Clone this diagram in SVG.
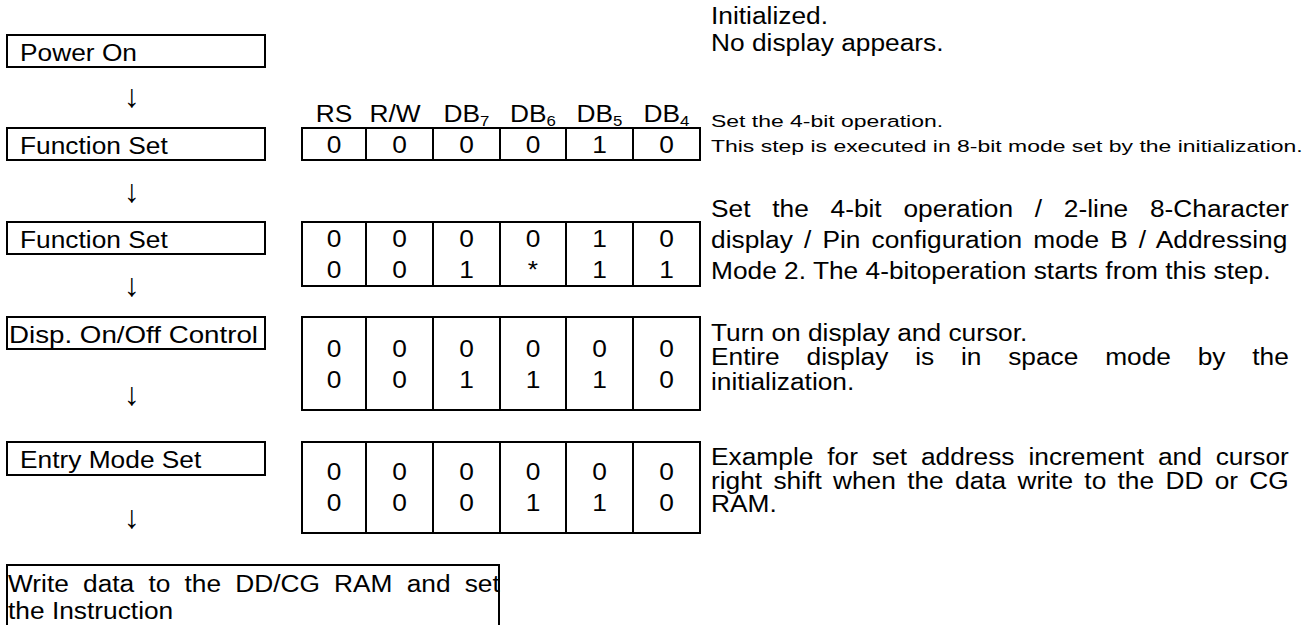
<svg xmlns="http://www.w3.org/2000/svg" width="1308" height="625" viewBox="0 0 1308 625">
<style>
text{font-family:"Liberation Sans",Arial,sans-serif;fill:#000}
.t{font-size:23.5px}
.c{font-size:23.5px;text-anchor:middle}
.s{font-size:17px}
.sub{font-size:15px}
.box{fill:#fff;stroke:#000;stroke-width:2}
.ln{stroke:#000;stroke-width:2}
.ar{font-size:32px;text-anchor:middle}
</style>
<rect width="1308" height="625" fill="#fff"/>

<g id="power-on">
<rect class="box" x="7" y="35" width="258" height="32"/>
<text class="t" transform="matrix(1.12 0 0 1 20 61)">Power On</text>
</g>

<g id="function-set-1">
<rect class="box" x="7" y="128" width="258" height="32"/>
<text class="t" transform="matrix(1.12 0 0 1 20 154)">Function Set</text>
</g>

<g id="function-set-2">
<rect class="box" x="7" y="222" width="258" height="32"/>
<text class="t" transform="matrix(1.12 0 0 1 20 248)">Function Set</text>
</g>

<g id="disp-control">
<rect class="box" x="7" y="317" width="258" height="32"/>
<text class="t" transform="matrix(1.18 0 0 1 9 343)">Disp. On/Off Control</text>
</g>

<g id="entry-mode">
<rect class="box" x="7" y="442" width="258" height="33"/>
<text class="t" transform="matrix(1.12 0 0 1 20 468)">Entry Mode Set</text>
</g>

<g id="write-data">
<rect class="box" x="7" y="565" width="492" height="80"/>
<text class="t" transform="matrix(1.12 0 0 1 8 592)" word-spacing="6.1">Write data to the DD/CG RAM and set</text>
<text class="t" transform="matrix(1.12 0 0 1 8 619)">the Instruction</text>
</g>

<g id="connectors">
<text class="ar" x="132" y="107">↓</text>
<text class="ar" x="132" y="202">↓</text>
<text class="ar" x="132" y="296">↓</text>
<text class="ar" x="132" y="405">↓</text>
<text class="ar" x="132" y="528">↓</text>
</g>

<g id="table-header">
<text class="c" transform="matrix(1.12 0 0 1 334 122)">RS</text>
<text class="c" transform="matrix(1.12 0 0 1 395 122)">R/W</text>
<text class="c" transform="matrix(1.12 0 0 1 466.5 122)">DB<tspan class="sub" dy="4">7</tspan></text>
<text class="c" transform="matrix(1.12 0 0 1 533 122)">DB<tspan class="sub" dy="4">6</tspan></text>
<text class="c" transform="matrix(1.12 0 0 1 599.5 122)">DB<tspan class="sub" dy="4">5</tspan></text>
<text class="c" transform="matrix(1.12 0 0 1 666.5 122)">DB<tspan class="sub" dy="4">4</tspan></text>
</g>

<g id="table-1">
<rect class="box" x="302" y="128" width="398" height="32"/>
<path class="ln" d="M366 128V160M433 128V160M500 128V160M566 128V160M633 128V160"/>
<text class="c" transform="matrix(1.12 0 0 1 334 153)">0</text>
<text class="c" transform="matrix(1.12 0 0 1 399.5 153)">0</text>
<text class="c" transform="matrix(1.12 0 0 1 466.5 153)">0</text>
<text class="c" transform="matrix(1.12 0 0 1 533 153)">0</text>
<text class="c" transform="matrix(1.12 0 0 1 599.5 153)">1</text>
<text class="c" transform="matrix(1.12 0 0 1 666.5 153)">0</text>
</g>

<g id="table-2">
<rect class="box" x="302" y="222" width="398" height="64"/>
<path class="ln" d="M366 222V286M433 222V286M500 222V286M566 222V286M633 222V286"/>
<text class="c" transform="matrix(1.12 0 0 1 334 247)">0</text>
<text class="c" transform="matrix(1.12 0 0 1 399.5 247)">0</text>
<text class="c" transform="matrix(1.12 0 0 1 466.5 247)">0</text>
<text class="c" transform="matrix(1.12 0 0 1 533 247)">0</text>
<text class="c" transform="matrix(1.12 0 0 1 599.5 247)">1</text>
<text class="c" transform="matrix(1.12 0 0 1 666.5 247)">0</text>
<text class="c" transform="matrix(1.12 0 0 1 334 278)">0</text>
<text class="c" transform="matrix(1.12 0 0 1 399.5 278)">0</text>
<text class="c" transform="matrix(1.12 0 0 1 466.5 278)">1</text>
<text class="c" transform="matrix(1.12 0 0 1 533 278)">*</text>
<text class="c" transform="matrix(1.12 0 0 1 599.5 278)">1</text>
<text class="c" transform="matrix(1.12 0 0 1 666.5 278)">1</text>
</g>

<g id="table-3">
<rect class="box" x="302" y="317" width="398" height="93"/>
<path class="ln" d="M366 317V410M433 317V410M500 317V410M566 317V410M633 317V410"/>
<text class="c" transform="matrix(1.12 0 0 1 334 357)">0</text>
<text class="c" transform="matrix(1.12 0 0 1 399.5 357)">0</text>
<text class="c" transform="matrix(1.12 0 0 1 466.5 357)">0</text>
<text class="c" transform="matrix(1.12 0 0 1 533 357)">0</text>
<text class="c" transform="matrix(1.12 0 0 1 599.5 357)">0</text>
<text class="c" transform="matrix(1.12 0 0 1 666.5 357)">0</text>
<text class="c" transform="matrix(1.12 0 0 1 334 388)">0</text>
<text class="c" transform="matrix(1.12 0 0 1 399.5 388)">0</text>
<text class="c" transform="matrix(1.12 0 0 1 466.5 388)">1</text>
<text class="c" transform="matrix(1.12 0 0 1 533 388)">1</text>
<text class="c" transform="matrix(1.12 0 0 1 599.5 388)">1</text>
<text class="c" transform="matrix(1.12 0 0 1 666.5 388)">0</text>
</g>

<g id="table-4">
<rect class="box" x="302" y="442" width="398" height="91"/>
<path class="ln" d="M366 442V533M433 442V533M500 442V533M566 442V533M633 442V533"/>
<text class="c" transform="matrix(1.12 0 0 1 334 480)">0</text>
<text class="c" transform="matrix(1.12 0 0 1 399.5 480)">0</text>
<text class="c" transform="matrix(1.12 0 0 1 466.5 480)">0</text>
<text class="c" transform="matrix(1.12 0 0 1 533 480)">0</text>
<text class="c" transform="matrix(1.12 0 0 1 599.5 480)">0</text>
<text class="c" transform="matrix(1.12 0 0 1 666.5 480)">0</text>
<text class="c" transform="matrix(1.12 0 0 1 334 511)">0</text>
<text class="c" transform="matrix(1.12 0 0 1 399.5 511)">0</text>
<text class="c" transform="matrix(1.12 0 0 1 466.5 511)">0</text>
<text class="c" transform="matrix(1.12 0 0 1 533 511)">1</text>
<text class="c" transform="matrix(1.12 0 0 1 599.5 511)">1</text>
<text class="c" transform="matrix(1.12 0 0 1 666.5 511)">0</text>
</g>

<g id="notes">
<text class="t" transform="matrix(1.12 0 0 1 711 24)">Initialized.</text>
<text class="t" transform="matrix(1.12 0 0 1 711 51)">No display appears.</text>
<text class="s" transform="matrix(1.35 0 0 1 711 127)">Set the 4-bit operation.</text>
<text class="s" transform="matrix(1.35 0 0 1 711 152)">This step is executed in 8-bit mode set by the initialization.</text>
<text class="t" transform="matrix(1.12 0 0 1 711 217)" word-spacing="12.87">Set the 4-bit operation / 2-line 8-Character</text>
<text class="t" transform="matrix(1.12 0 0 1 711 248)" word-spacing="3.38">display / Pin configuration mode B / Addressing</text>
<text class="t" transform="matrix(1.12 0 0 1 711 279)">Mode 2. The 4-bitoperation starts from this step.</text>
<text class="t" transform="matrix(1.12 0 0 1 711 341)">Turn on display and cursor.</text>
<text class="t" transform="matrix(1.12 0 0 1 711 365)" word-spacing="17.38">Entire display is in space mode by the</text>
<text class="t" transform="matrix(1.12 0 0 1 711 390)">initialization.</text>
<text class="t" transform="matrix(1.12 0 0 1 711 465)" word-spacing="5.91">Example for set address increment and cursor</text>
<text class="t" transform="matrix(1.12 0 0 1 711 489)" word-spacing="3.55">right shift when the data write to the DD or CG</text>
<text class="t" transform="matrix(1.12 0 0 1 711 512)">RAM.</text>
</g>
</svg>
